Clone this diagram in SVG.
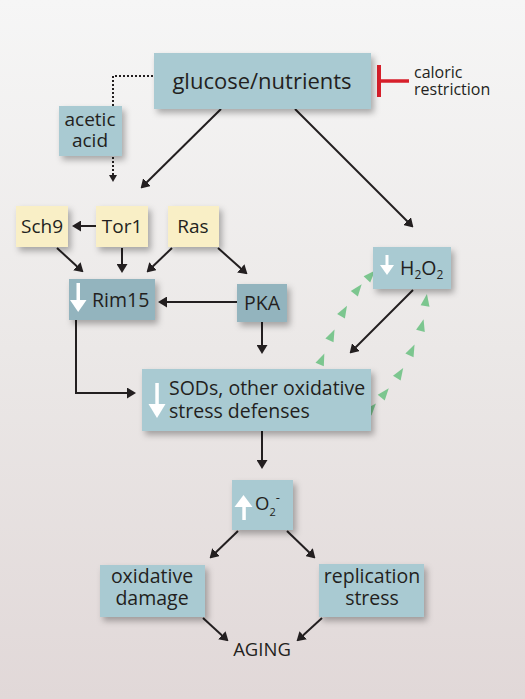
<svg xmlns="http://www.w3.org/2000/svg" xmlns:xlink="http://www.w3.org/1999/xlink" width="525" height="699" viewBox="0 0 525 699">
<defs>
<linearGradient id="bg" x1="0" y1="0" x2="0" y2="1">
<stop offset="0" stop-color="#f6f6f6"/>
<stop offset="0.5" stop-color="#ebe8e7"/>
<stop offset="1" stop-color="#e1d8d8"/>
</linearGradient>
<filter id="sh" x="-20%" y="-20%" width="140%" height="150%">
<feDropShadow dx="3" dy="4" stdDeviation="3" flood-color="#000" flood-opacity="0.3"/>
</filter>
<marker id="ah" markerUnits="userSpaceOnUse" viewBox="0 0 9 11" markerWidth="9" markerHeight="11" refX="7" refY="5.5" orient="auto">
<path d="M0,0 L9,5.5 L0,11 z" fill="#231f20"/>
</marker>
<marker id="ahs" markerUnits="userSpaceOnUse" viewBox="0 0 7 8" markerWidth="7" markerHeight="8" refX="5" refY="4" orient="auto">
<path d="M0,0 L7,4 L0,8 z" fill="#231f20"/>
</marker>
<path id="gt" d="M-6,-4.5 L6,0 L-6,4.5 z" fill="#7cc68f"/>
<style>
.box{fill:#a9cad2;filter:url(#sh)}
.dark{fill:#93b4be;filter:url(#sh)}
.yel{fill:#f9efc6;filter:url(#sh)}
text{font-family:"Open Sans","Noto Sans",sans-serif;fill:#231f20}
.c{text-anchor:middle}
.ln{fill:none;stroke:#231f20;stroke-width:2;marker-end:url(#ah)}
.dot{fill:none;stroke:#231f20;stroke-width:2;stroke-dasharray:2,2}
.wa{fill:#ffffff}
</style>
</defs>
<rect x="0" y="0" width="525" height="699" fill="url(#bg)"/>

<g id="connectors">
<path class="dot" d="M153,76 H113 V106"/>
<path class="dot" d="M113,157 V180" marker-end="url(#ahs)"/>
<line class="ln" x1="221" y1="109" x2="142" y2="187"/>
<line class="ln" x1="295" y1="109" x2="412" y2="226"/>
<line class="ln" x1="96" y1="226" x2="74" y2="226"/>
<line class="ln" x1="57" y1="248" x2="82" y2="271"/>
<line class="ln" x1="122" y1="248" x2="122" y2="271"/>
<line class="ln" x1="172" y1="248" x2="148" y2="271"/>
<line class="ln" x1="218" y1="248" x2="246" y2="273"/>
<line class="ln" x1="237" y1="302" x2="160" y2="302"/>
<line class="ln" x1="262" y1="322" x2="262" y2="352"/>
<path class="ln" d="M76,320 V393 H134"/>
<line class="ln" x1="413" y1="290" x2="351" y2="352"/>
<line class="ln" x1="262" y1="431" x2="262" y2="467"/>
<line class="ln" x1="238" y1="531" x2="211" y2="557"/>
<line class="ln" x1="287" y1="531" x2="314" y2="557"/>
<line class="ln" x1="203" y1="618" x2="227" y2="640"/>
<line class="ln" x1="322" y1="618" x2="298" y2="640"/>
<g id="green-left">
<use xlink:href="#gt" transform="translate(322,359) rotate(-67)"/>
<use xlink:href="#gt" transform="translate(332,335) rotate(-65)"/>
<use xlink:href="#gt" transform="translate(344,311) rotate(-60)"/>
<use xlink:href="#gt" transform="translate(358,289) rotate(-52)"/>
<use xlink:href="#gt" transform="translate(371,275) rotate(-47)"/>
</g>
<g id="green-right">
<use xlink:href="#gt" transform="translate(372,408) rotate(-49)"/>
<use xlink:href="#gt" transform="translate(385,393) rotate(-51)"/>
<use xlink:href="#gt" transform="translate(400,373) rotate(-58)"/>
<use xlink:href="#gt" transform="translate(412,350) rotate(-65)"/>
<use xlink:href="#gt" transform="translate(422,325) rotate(-75)"/>
<use xlink:href="#gt" transform="translate(426,300) rotate(-81)"/>
</g>
<g id="inhibit" stroke="#d71f2b" fill="none">
<line x1="379" y1="65" x2="379" y2="97" stroke-width="4"/>
<line x1="379" y1="81" x2="409" y2="81" stroke-width="3.5"/>
</g>
</g>

<g id="glucose">
<rect class="box" x="154" y="53" width="217" height="56"/>
<text class="c" x="262" y="89" font-size="22">glucose/nutrients</text>
</g>
<g id="caloric">
<text x="414" y="78" font-size="16">caloric</text>
<text x="414" y="95" font-size="16">restriction</text>
</g>
<g id="acetic">
<rect class="box" x="59" y="106" width="63" height="50"/>
<text class="c" x="90" y="126" font-size="19">acetic</text>
<text class="c" x="90" y="147" font-size="19">acid</text>
</g>
<g id="sch9">
<rect class="yel" x="16" y="206" width="52" height="41"/>
<text class="c" x="42" y="233" font-size="19">Sch9</text>
</g>
<g id="tor1">
<rect class="yel" x="96" y="206" width="52" height="41"/>
<text class="c" x="122" y="233" font-size="19">Tor1</text>
</g>
<g id="ras">
<rect class="yel" x="168" y="206" width="51" height="41"/>
<text class="c" x="193" y="233" font-size="19">Ras</text>
</g>
<g id="rim15">
<rect class="dark" x="69" y="279" width="86" height="41"/>
<rect class="wa" x="76.5" y="283" width="3.5" height="19"/>
<path class="wa" d="M70,300 L86.5,300 L78.2,312 z"/>
<text x="92" y="307" font-size="19.5">Rim15</text>
</g>
<g id="pka">
<rect class="dark" x="237" y="284" width="50" height="38"/>
<text class="c" x="262" y="310" font-size="19.5">PKA</text>
</g>
<g id="h2o2">
<rect class="box" x="373" y="247" width="78" height="42"/>
<rect class="wa" x="385.5" y="255" width="3" height="11"/>
<path class="wa" d="M380,265 L394,265 L387,275 z"/>
<text x="400" y="275" font-size="19.5">H<tspan font-size="12" dy="4">2</tspan><tspan dy="-4">O</tspan><tspan font-size="12" dy="4">2</tspan></text>
</g>
<g id="sods">
<rect class="box" x="142" y="369" width="229" height="62"/>
<rect class="wa" x="155.3" y="383" width="3.5" height="23"/>
<path class="wa" d="M148.5,404 L165.5,404 L157,418 z"/>
<text x="169" y="395" font-size="19.5">SODs, other oxidative</text>
<text x="169" y="418" font-size="19.5">stress defenses</text>
</g>
<g id="o2">
<rect class="box" x="232" y="480" width="61" height="50"/>
<rect class="wa" x="242.3" y="504" width="3.5" height="16"/>
<path class="wa" d="M234.5,507 L252.5,507 L243.5,495 z"/>
<text x="255" y="510" font-size="18.5">O<tspan font-size="11" dy="6">2</tspan><tspan font-size="13" dy="-14">-</tspan></text>
</g>
<g id="oxdamage">
<rect class="box" x="100" y="565" width="105" height="52"/>
<text class="c" x="152" y="583" font-size="19.5">oxidative</text>
<text class="c" x="152" y="605" font-size="19.5">damage</text>
</g>
<g id="repstress">
<rect class="box" x="319" y="564" width="105" height="53"/>
<text class="c" x="372" y="583" font-size="19.5">replication</text>
<text class="c" x="372" y="605" font-size="19.5">stress</text>
</g>
<g id="aging">
<text class="c" x="262" y="656" font-size="18.5">AGING</text>
</g>
</svg>
